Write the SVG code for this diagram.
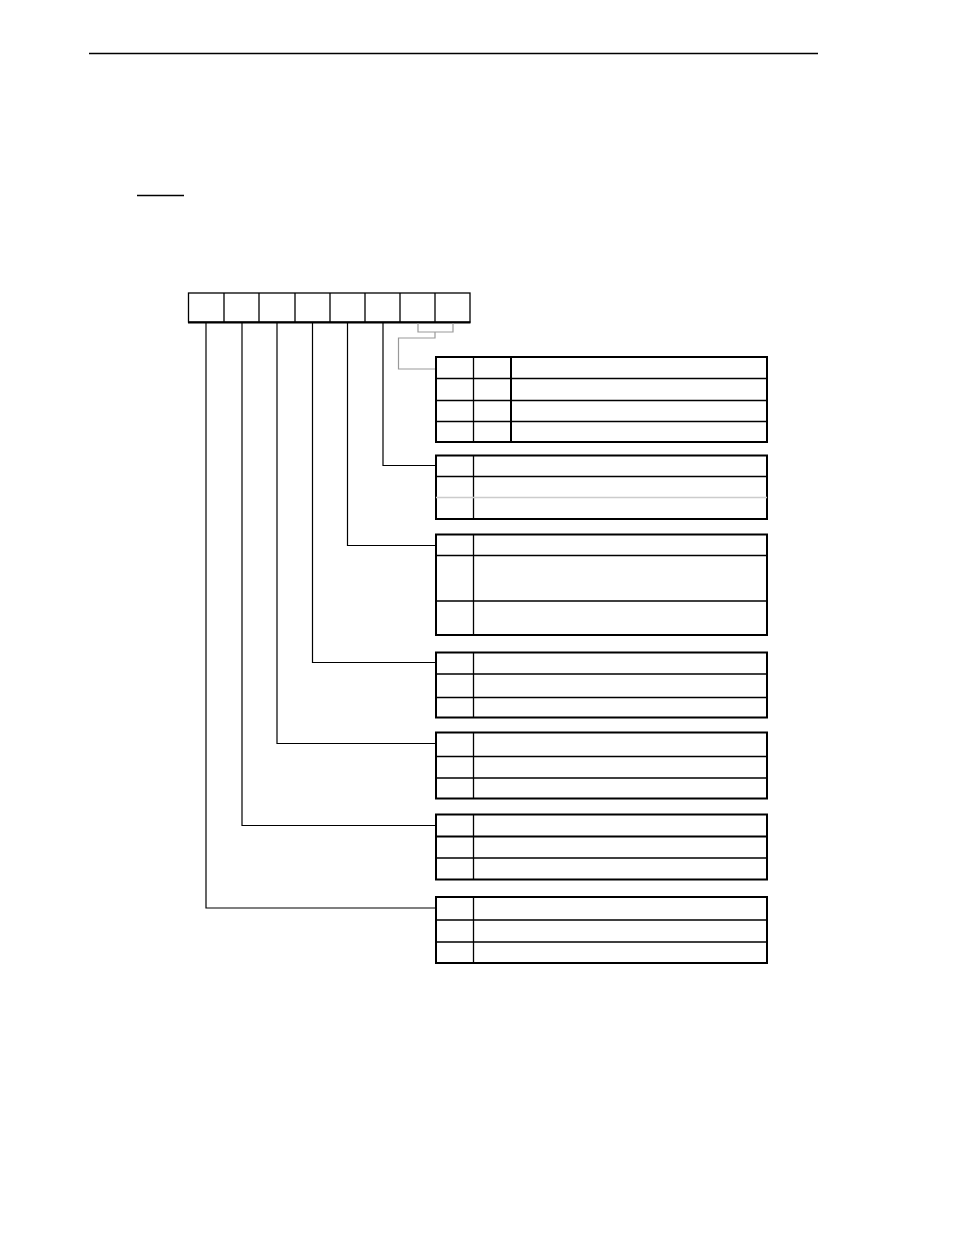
<svg xmlns="http://www.w3.org/2000/svg" width="954" height="1235" viewBox="0 0 954 1235">
<style>
.o{fill:none;stroke:#000;stroke-width:2}
.i{stroke:#000;stroke-width:1.3;fill:none}
.c{stroke:#000;stroke-width:1.2;fill:none}
.g{stroke:#999;stroke-width:1.2;fill:none}
</style>
<rect width="954" height="1235" fill="#fff"/>
<line x1="89" y1="53.5" x2="818" y2="53.5" stroke="#000" stroke-width="1.3"/>
<line x1="137" y1="195.5" x2="184" y2="195.5" stroke="#000" stroke-width="1.3"/>
<g id="register">
<rect x="188.5" y="293" width="281.5" height="29" fill="none" stroke="#000" stroke-width="1.3"/>
<line x1="188" y1="322.5" x2="470.5" y2="322.5" stroke="#000" stroke-width="2.2"/>
<path class="i" d="M224 293V322M259 293V322M295 293V322M330 293V322M365 293V322M400 293V322M435 293V322"/>
</g>
<g id="connectors">
<path class="c" d="M206 323V908H436"/>
<path class="c" d="M242 323V825.5H436"/>
<path class="c" d="M277 323V743.5H436"/>
<path class="c" d="M312.5 323V662.5H436"/>
<path class="c" d="M347.5 323V545.5H436"/>
<path class="c" d="M383 323V465.5H436"/>
<path class="g" d="M418 323V332H453V323M435 332V338H398.5V369H436"/>
</g>
<g id="table1">
<rect class="o" x="436" y="357" width="331" height="85"/>
<path class="i" d="M436 378.5H767M436 400.5H767M436 421.5H767M473.5 357V442"/>
<line x1="511" y1="357" x2="511" y2="442" stroke="#000" stroke-width="2"/>
</g>
<g id="table2">
<rect class="o" x="436" y="455.5" width="331" height="63.5"/>
<path class="i" d="M436 476.5H767M473.5 455.5V519"/>
<line x1="436" y1="497.5" x2="767" y2="497.5" stroke="#ccc" stroke-width="1.3"/>
</g>
<g id="table3">
<rect class="o" x="436" y="534.5" width="331" height="100.5"/>
<path class="i" d="M436 555.5H767M436 601H767M473.5 534.5V635"/>
</g>
<g id="table4">
<rect class="o" x="436" y="652.5" width="331" height="65"/>
<path class="i" d="M436 674H767M436 697.5H767M473.5 652.5V717.5"/>
</g>
<g id="table5">
<rect class="o" x="436" y="732.5" width="331" height="66"/>
<path class="i" d="M436 756.5H767M436 778H767M473.5 732.5V798.5"/>
</g>
<g id="table6">
<rect class="o" x="436" y="814.5" width="331" height="65"/>
<line x1="436" y1="836.5" x2="767" y2="836.5" stroke="#000" stroke-width="2"/>
<path class="i" d="M436 858H767M473.5 814.5V879.5"/>
</g>
<g id="table7">
<rect class="o" x="436" y="897" width="331" height="66"/>
<path class="i" d="M436 920H767M436 942H767M473.5 897V963"/>
</g>
</svg>
